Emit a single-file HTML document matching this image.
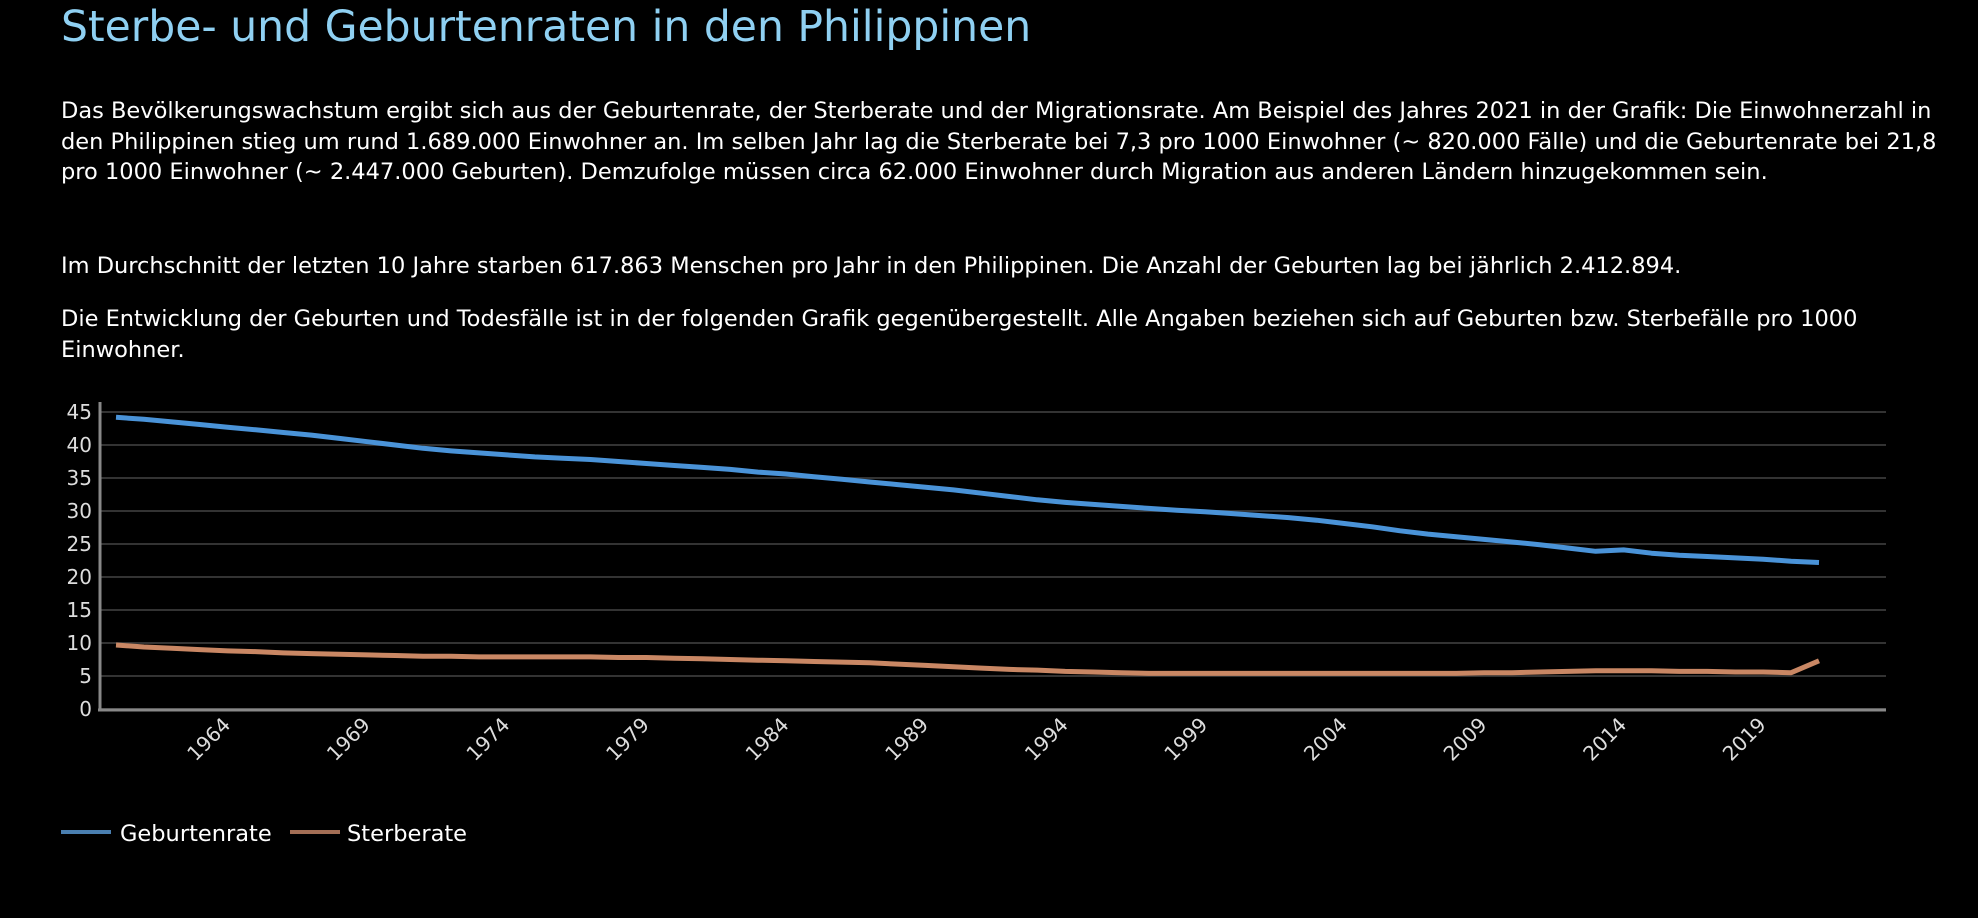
<!DOCTYPE html>
<html><head><meta charset="utf-8"><style>
body{margin:0;background:#000;width:1978px;height:918px;overflow:hidden;font-family:"DejaVu Sans","Liberation Sans",sans-serif;color:#fff}
h1{position:absolute;left:61px;top:3px;margin:0;font-weight:normal;font-size:42.5px;color:#8fd0f2}
p{position:absolute;left:61px;margin:0;font-size:22.5px;line-height:30.5px;width:1890px}
svg{position:absolute;left:0;top:0}
</style></head><body>
<h1>Sterbe- und Geburtenraten in den Philippinen</h1>
<p style="top:96px">Das Bevölkerungswachstum ergibt sich aus der Geburtenrate, der Sterberate und der Migrationsrate. Am Beispiel des Jahres 2021 in der Grafik: Die Einwohnerzahl in den Philippinen stieg um rund 1.689.000 Einwohner an. Im selben Jahr lag die Sterberate bei 7,3 pro 1000 Einwohner (~ 820.000 Fälle) und die Geburtenrate bei 21,8 pro 1000 Einwohner (~ 2.447.000 Geburten). Demzufolge müssen circa 62.000 Einwohner durch Migration aus anderen Ländern hinzugekommen sein.</p>
<p style="top:251px">Im Durchschnitt der letzten 10 Jahre starben 617.863 Menschen pro Jahr in den Philippinen. Die Anzahl der Geburten lag bei jährlich 2.412.894.</p>
<p style="top:304px">Die Entwicklung der Geburten und Todesfälle ist in der folgenden Grafik gegenübergestellt. Alle Angaben beziehen sich auf Geburten bzw. Sterbefälle pro 1000 Einwohner.</p>
<svg id="chart" width="1978" height="918"></svg>
<script>
const years=[];for(let y=1960;y<=2021;y++)years.push(y);
const birthRates=[44.2,43.9,43.5,43.1,42.7,42.3,41.9,41.5,41.0,40.5,40.0,39.5,39.1,38.8,38.5,38.2,38.0,37.8,37.5,37.2,36.9,36.6,36.3,35.9,35.6,35.2,34.8,34.4,34.0,33.6,33.2,32.7,32.2,31.7,31.3,31.0,30.7,30.4,30.1,29.9,29.6,29.3,29.0,28.6,28.1,27.6,27.0,26.5,26.1,25.7,25.3,24.9,24.4,23.9,24.1,23.6,23.3,23.1,22.9,22.7,22.4,22.2,22.0,21.8].slice(0,62);
const deathRates=[9.7,9.4,9.2,9.0,8.8,8.7,8.5,8.4,8.3,8.2,8.1,8.0,8.0,7.9,7.9,7.9,7.9,7.9,7.8,7.8,7.7,7.6,7.5,7.4,7.3,7.2,7.1,7.0,6.8,6.6,6.4,6.2,6.0,5.9,5.7,5.6,5.5,5.4,5.4,5.4,5.4,5.4,5.4,5.4,5.4,5.4,5.4,5.4,5.4,5.5,5.5,5.6,5.7,5.8,5.8,5.8,5.7,5.7,5.6,5.6,5.5,7.3];
const yTicks=[0,5,10,15,20,25,30,35,40,45];
const xTickLabels=[1964,1969,1974,1979,1984,1989,1994,1999,2004,2009,2014,2019];
const NS="http://www.w3.org/2000/svg",svg=document.getElementById('chart');
const X0=100,X1=1886,Y0=709,YT=412;
const xs=y=>116+(y-1960)*(1819-116)/61;
const ys=v=>Y0-v*(Y0-YT)/45;
function mk(t,a,p){const e=document.createElementNS(NS,t);for(const k in a)e.setAttribute(k,a[k]);(p||svg).appendChild(e);return e;}
for(const t of yTicks){
 const g=mk('line',{x1:X0,x2:X1,y1:ys(t),y2:ys(t),stroke:'#333','stroke-width':2});
 
 
 const l=mk('text',{x:92,y:ys(t)+7,'text-anchor':'end','font-size':20,fill:'#ddd'});l.textContent=t;
 
 
}
const ya=mk('line',{x1:X0,x2:X0,y1:402,y2:Y0+2,stroke:'#888','stroke-width':3});


const xa=mk('line',{x1:X0-2,x2:X1,y1:Y0+1,y2:Y0+1,stroke:'#888','stroke-width':3});


for(const t of xTickLabels){
 const x=xs(t)+4,y=726;
 const l=mk('text',{x:x,y:y,'text-anchor':'end','font-size':20,fill:'#ddd',transform:`rotate(-45 ${x} ${y})`});l.textContent=t;
 
 
}
function series(vals,col,name){
 const d=vals.map((v,i)=>(i?'L':'M')+xs(years[i]).toFixed(1)+' '+ys(v).toFixed(1)).join(' ');
 const p=mk('path',{d:d,fill:'none',stroke:col,'stroke-width':5,'stroke-linejoin':'round'});
 
 
}
series(birthRates,'#4a93d8','birth-rate-line');
series(deathRates,'#c98764','death-rate-line');
const legend=[['Geburtenrate','#4a7fb0',61,120],['Sterberate','#a36e55',290,347]];
for(const [n,c,lx,tx] of legend){
 const g=mk('g',{});
 
 
 mk('line',{x1:lx,x2:lx+50,y1:832,y2:832,stroke:c,'stroke-width':4},g);
 const t=mk('text',{x:tx,y:841,'font-size':22.5,fill:'#fff'},g);t.textContent=n;
}
</script>
</body></html>
